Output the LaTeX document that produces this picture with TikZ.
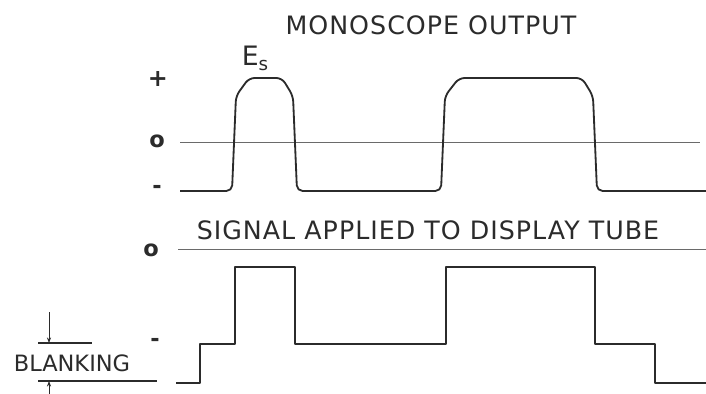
\documentclass[tikz,border=0pt]{standalone}
\usepackage{fontspec}
\setmainfont{DejaVu Sans}
\usetikzlibrary{arrows.meta}
\definecolor{tinta}{HTML}{2B2B2B}
\definecolor{rejilla}{HTML}{6A6A6A}

\begin{document}
\begin{tikzpicture}[x=0.025cm, y=-0.025cm, font=\fontsize{16}{18}\selectfont, text=tinta,
			rotulo/.style={inner sep=0pt, text=tinta},
			titulo/.style={rotulo, font=\fontsize{18}{20}\selectfont\addfontfeature{LetterSpace=4}},
			nivel/.style={draw=rejilla, line width=0.5pt},
			onda/.style={draw=tinta, line width=1.3pt, line join=round}]
			\useasboundingbox (0,0) rectangle (706,394);
			% monoscope output
			\node[titulo] (titulo1) at (431,25) {MONOSCOPE OUTPUT};
			\node[rotulo] (es) at (255,58) {\fontsize{19}{20}\selectfont E\raisebox{-0.35ex}{\fontsize{13}{14}\selectfont s}};
			\node[rotulo] (mas) at (158,79) {\fontsize{17}{18}\selectfont\bfseries +};
			\node[rotulo] (cero1) at (157,141) {\bfseries o};
			\node[rotulo] (menos1) at (157,189) {\bfseries -};
			\coordinate (ini1) at (180,142);
			\coordinate (fin1) at (700,142);
			\draw[nivel] (ini1) -- (fin1);
			\draw[onda, rounded corners=4pt] (180,191) -- (232,191) -- (236,96) -- (249,78) -- (282,78)
				-- (293,96) -- (297,191) -- (441,191) -- (445,96) -- (459,78) -- (582,78)
				-- (593,96) -- (597,191) -- (706,191);
			% signal applied to display tube
			\node[titulo] (titulo2) at (428,230) {SIGNAL APPLIED TO DISPLAY TUBE};
			\node[rotulo] (cero2) at (151,250) {\bfseries o};
			\node[rotulo] (menos2) at (155,342) {\bfseries -};
			\coordinate (ini2) at (178,249);
			\coordinate (fin2) at (706,249);
			\draw[nivel] (ini2) -- (fin2);
			\draw[onda] (176,383) -- (200,383) -- (200,344) -- (235,344) -- (235,267) -- (295,267)
				-- (295,344) -- (446,344) -- (446,267) -- (595,267) -- (595,344) -- (655,344)
				-- (655,383) -- (706,383);
			% blanking
			\node[rotulo] (blanking) at (72,363) {BLANKING};
			\coordinate (bsup1) at (38,343);
			\coordinate (bsup2) at (92,343);
			\coordinate (binf1) at (38,381);
			\coordinate (binf2) at (157,381);
			\draw[onda, line width=0.8pt] (bsup1) -- (bsup2);
			\draw[onda, line width=0.8pt] (binf1) -- (binf2);
			\coordinate (flecha1) at (49,312);
			\coordinate (flecha2) at (49,394);
			\draw[line width=0.6pt, draw=tinta, -{Stealth[length=4pt, width=3pt]}] (flecha1) -- (49,343);
			\draw[line width=0.6pt, draw=tinta, -{Stealth[length=4pt, width=3pt]}] (flecha2) -- (49,381);
		\end{tikzpicture}
\end{document}
